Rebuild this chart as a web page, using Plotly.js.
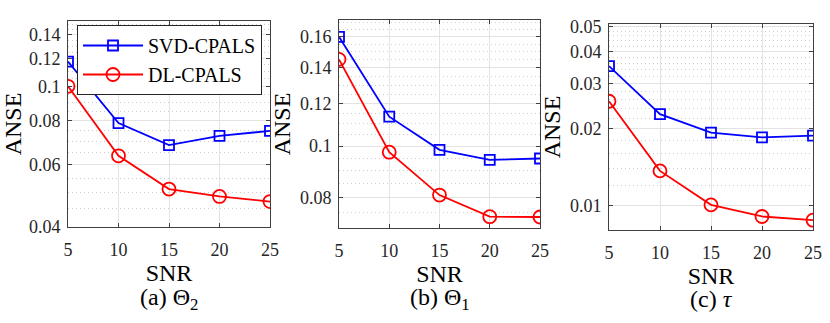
<!DOCTYPE html>
<html>
<head>
<meta charset="utf-8">
<script src="https://cdn.plot.ly/plotly-3.0.1.min.js"></script>
<style>
  body { margin: 0; background: #fff; }
  #chart { width: 830px; height: 323px; }
</style>
</head>
<body>
<div id="chart"></div>
<script>
// SNR values on the x axis (same for all three panels)
var snr = [5, 10, 15, 20, 25];

// (a) Theta_2
var svdTheta2 = [0.1175, 0.0787, 0.0682, 0.0724, 0.0748];
var dlTheta2 = [0.1000, 0.0636, 0.0512, 0.0488, 0.0472];
// (b) Theta_1
var svdTheta1 = [0.1600, 0.1135, 0.0984, 0.0942, 0.0948];
var dlTheta1 = [0.1452, 0.0974, 0.0810, 0.0738, 0.0737];
// (c) tau
var svdTau = [0.0351, 0.0228, 0.0193, 0.0185, 0.0188];
var dlTau = [0.0256, 0.0137, 0.0101, 0.0091, 0.0088];

var seriesNames = ["SVD-CPALS", "DL-CPALS"];
var captions = ["(a) \u0398<sub>2</sub>", "(b) \u0398<sub>1</sub>", "(c) <i>\u03c4</i>"];

// y tick labels per panel
var yTicksA = [0.04, 0.06, 0.08, 0.1, 0.12, 0.14];
var yTicksB = [0.08, 0.1, 0.12, 0.14, 0.16];
var yTicksC = [0.01, 0.02, 0.03, 0.04, 0.05];

var FONT = "'Liberation Serif', 'Times New Roman', serif";
var W = 830, H = 323;

// pixel boxes of the three axes [left, right, top, bottom]
var boxes = [[68, 270, 21, 227], [339, 540, 20, 228], [609, 813, 24, 230]];
var yRanges = [[0.04, 0.153], [0.0703, 0.172], [0.00806, 0.0512]];
var minorStep = [0.005, 0.005, 0.002];

function minorVals(range, step) {
    var out = [];
    var v = Math.ceil(range[0] / step) * step;
    for (; v <= range[1]; v += step) out.push(Math.round(v * 10000) / 10000);
    return out;
}

function makeTraces(svd, dl, idx) {
    var sfx = idx == 0 ? "" : String(idx + 1);
    return [{
        x: snr, y: svd, name: seriesNames[0], mode: "lines+markers",
        xaxis: "x" + sfx, yaxis: "y" + sfx, showlegend: idx == 0,
        line: {color: "#0000ff", width: 1.8},
        marker: {symbol: "square-open", size: 10, color: "#0000ff", line: {width: 1.8}}
    }, {
        x: snr, y: dl, name: seriesNames[1], mode: "lines+markers",
        xaxis: "x" + sfx, yaxis: "y" + sfx, showlegend: idx == 0,
        line: {color: "#ff0000", width: 1.8},
        marker: {symbol: "circle-open", size: 13, color: "#ff0000", line: {width: 1.8}}
    }];
}

var traces = []
    .concat(makeTraces(svdTheta2, dlTheta2, 0))
    .concat(makeTraces(svdTheta1, dlTheta1, 1))
    .concat(makeTraces(svdTau, dlTau, 2));

var yTicks = [yTicksA, yTicksB, yTicksC];

var layout = {
    width: W, height: H,
    margin: {l: 0, r: 0, t: 0, b: 0},
    paper_bgcolor: "#fff", plot_bgcolor: "#fff",
    font: {family: FONT, color: "#262626", size: 18},
    showlegend: true,
    legend: {
        x: 77 / W, y: 1 - 25 / H, xanchor: "left", yanchor: "top",
        bgcolor: "#fff", bordercolor: "#262626", borderwidth: 1,
        font: {family: FONT, size: 20, color: "#000"},
        itemwidth: 60,
        tracegroupgap: 0
    },
    annotations: []
};

for (var i = 0; i < 3; i++) {
    var b = boxes[i];
    var sfx = i == 0 ? "" : String(i + 1);
    layout["xaxis" + sfx] = {
        domain: [b[0] / W, b[1] / W],
        anchor: "y" + sfx,
        range: [5, 25],
        tickvals: snr,
        ticks: "inside", ticklen: 4, tickcolor: "#404040",
        showline: true, mirror: "ticks", linecolor: "#404040", linewidth: 1,
        showgrid: true, gridcolor: "#e3e3e3", gridwidth: 1,
        zeroline: false,
        ticklabelstandoff: 6,
        tickfont: {family: FONT, size: 18, color: "#262626"},
        title: {text: "SNR", font: {family: FONT, size: 24, color: "#000"}, standoff: 3}
    };
    layout["yaxis" + sfx] = {
        domain: [1 - b[3] / H, 1 - b[2] / H],
        anchor: "x" + sfx,
        type: "log",
        range: [Math.log10(yRanges[i][0]), Math.log10(yRanges[i][1])],
        tickvals: yTicks[i],
        ticktext: yTicks[i].map(function (v) { return String(v); }),
        ticks: "inside", ticklen: 4, tickcolor: "#404040",
        showline: true, mirror: "ticks", linecolor: "#404040", linewidth: 1,
        showgrid: true, gridcolor: "#e3e3e3", gridwidth: 1,
        zeroline: false,
        ticklabelstandoff: 3,
        tickfont: {family: FONT, size: 18, color: "#262626"},
        minor: {
            tickmode: "array", tickvals: minorVals(yRanges[i], minorStep[i]),
            showgrid: true, gridcolor: "#cccccc", griddash: "1px,3px", gridwidth: 1,
            ticks: ""
        },
        title: {text: "ANSE", font: {family: FONT, size: 24, color: "#000"}, standoff: 2}
    };
    layout.annotations.push({
        xref: "paper", yref: "paper",
        x: (b[0] + b[1]) / 2 / W, y: 1 - 299 / H,
        xanchor: "center", yanchor: "middle",
        text: captions[i], showarrow: false,
        font: {family: FONT, size: 24, color: "#000"}
    });
}

var config = {staticPlot: true, displayModeBar: false};
Plotly.newPlot("chart", traces, layout, config);
</script>
</body>
</html>
